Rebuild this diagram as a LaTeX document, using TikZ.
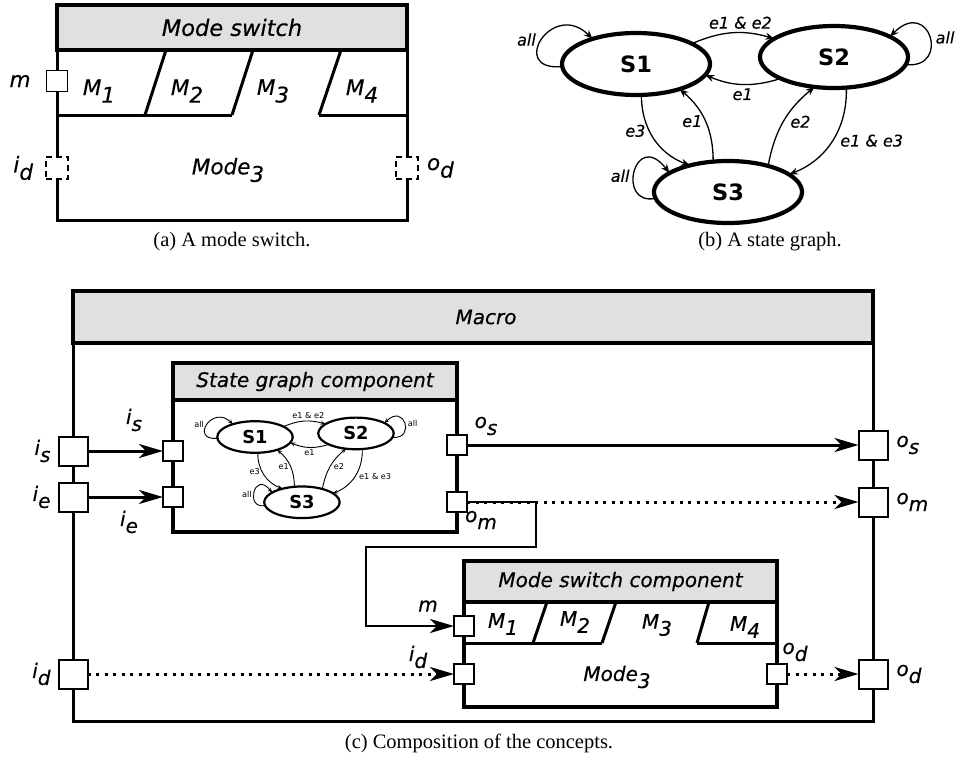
\documentclass[tikz,border=0pt]{standalone}
\usepackage{fontspec}
\setmainfont{Liberation Serif}
\setsansfont{DejaVu Sans}[ItalicFeatures={FakeBold=0.4}]
\usetikzlibrary{positioning,shapes,arrows.meta}
\definecolor{titlegray}{HTML}{E0E0E0}
\newcommand{\lo}[1]{\raisebox{-0.35em}{#1}}
\tikzset{
  every node/.style={inner sep=0pt, outer sep=0pt},
  lbl/.style={font=\sffamily\itshape\fontsize{20}{22}\selectfont},
  lbla/.style={font=\sffamily\itshape\fontsize{21.5}{24}\selectfont},
  caption/.style={font=\rmfamily\fontsize{20.5}{23}\selectfont},
  boxline/.style={line width=3pt},
  titlebar/.style={draw, fill=titlegray, line width=3.5pt, anchor=north west, lbl},
  inport/.style={draw, fill=white, line width=1.5pt, minimum size=20pt},
  outport/.style={draw, fill=white, line width=2pt, minimum size=29pt},
  ghostport/.style={draw, fill=white, line width=1.8pt, dash pattern=on 6pt off 4pt, minimum size=22pt},
  flow/.style={line width=3pt, -{Stealth[length=24pt,width=14pt,inset=7pt]}},
  dotflow/.style={flow, dash pattern=on 3pt off 5.5pt},
  route/.style={line width=2.5pt, -{Stealth[length=24pt,width=14pt,inset=7pt]}},
  sgstate/.style={ellipse, draw, line width=4.2pt, minimum width=148pt, minimum height=62pt,
    font=\sffamily\bfseries\fontsize{22.5}{24}\selectfont},
  sgedge/.style={line width=1.3pt, -{Stealth[length=9pt,width=7pt,inset=3pt]}},
  sglbl/.style={font=\sffamily\itshape\fontsize{16}{18}\selectfont},
  pics/stategraph/.style={code={
    \node[sgstate] (S1) at (0,0) {S1};
    \node[sgstate] (S2) at (198,-7) {S2};
    \node[sgstate] (S3) at (92,128) {S3};
    \draw[sgedge] (S1.20) to[bend left=20] node[sglbl, pos=0.6, above=4pt] {e1 \& e2} (S2.163);
    \draw[sgedge] (S2.202) to[bend left=20] node[sglbl, midway, below=4pt] {e1} (S1.351);
    \draw[sgedge] (S1.280) to[bend right=35] node[sglbl, pos=0.4, left=4pt] {e3} (S3.145);
    \draw[sgedge] (S3.116) to[bend right=25] node[sglbl, midway, left=3pt] {e1} (S1.330);
    \draw[sgedge] (S3.33) to[bend left=20] node[sglbl, midway, right=7pt] {e2} (S2.237);
    \draw[sgedge] (S2.292) to[bend left=35] node[sglbl, midway, right=8pt] {e1 \& e3} (S3.16);
    \draw[sgedge] (S1.182) .. controls +(-55,5) and +(-40,-40) .. (S1.150)
      node[sglbl, pos=0.5, left=6pt] {all};
    \draw[sgedge] (S2.354) .. controls +(45,5) and +(40,-40) .. (S2.20)
      node[sglbl, pos=0.5, right=6pt] {all};
    \draw[sgedge] (S3.185) .. controls +(-40,8) and +(-35,-45) .. (S3.162)
      node[sglbl, pos=0.45, left=4pt] {all};
  }},
}
\begin{document}
\begin{tikzpicture}[x=1pt, y=-1pt]
\useasboundingbox (0,0) rectangle (958,758);

% (a) mode switch
\node[draw, boxline, minimum width=350pt, minimum height=215pt, anchor=north west] (ms) at (57,5) {};
\draw[boxline] (57,115) -- (232,115) (319,115) -- (407,115);
\draw[boxline] (166,50) -- (145,115) (253,50) -- (232,115) (341,50) -- (319,115);
\node[titlebar, minimum width=350pt, minimum height=45pt,
  font=\sffamily\itshape\fontsize{22.5}{25}\selectfont] (mstitle) at (57,5) {Mode switch};
\node[lbla] (msM1) at (99,91) {M\lo{1}};
\node[lbla] (msM2) at (187,91) {M\lo{2}};
\node[lbla] (msM3) at (273,91) {M\lo{3}};
\node[lbla] (msM4) at (362,91) {M\lo{4}};
\node[lbla] (msmode) at (228,170) {Mode\lo{3}};
\node[inport, minimum size=21pt] (msm) at (57,81) {};
\node[ghostport] (msid) at (57,168) {};
\node[ghostport] (msod) at (407,168) {};
\node[lbla, left=16pt of msm] (msmlbl) {m};
\node[lbla, left=13pt of msid] (msidlbl) {i\lo{d}};
\node[lbla, right=9pt of msod] (msodlbl) {o\lo{d}};
\node[caption] (capa) at (232,242) {(a) A mode switch.};

% (b) state graph
\pic (sg) at (636,64) {stategraph};
\node[caption] (capb) at (770,242) {(b) A state graph.};

% (c) macro
\node[draw, boxline, minimum width=800pt, minimum height=430pt, anchor=north west] (macro) at (73,291) {};
\node[titlebar, minimum width=800pt, minimum height=52pt] (macrotitle) at (73,291) {\hspace*{26pt}Macro};

\node[draw, line width=3.5pt, minimum width=284pt, minimum height=169pt, anchor=north west] (sgc) at (173,363) {};
\node[titlebar, minimum width=284pt, minimum height=37pt] (sgctitle) at (173,363) {State graph component};
\pic[scale=0.51, transform shape,
  sglbl/.style={font=\sffamily\fontsize{16}{18}\selectfont},
  sgstate/.append style={line width=2.2pt, font=\sffamily\bfseries\fontsize{35}{37}\selectfont},
  sgedge/.style={line width=0.9pt, -{Stealth[length=5pt,width=4pt,inset=2pt]}}]
  (mini) at (255,437) {stategraph};

\node[draw, line width=3.5pt, minimum width=313pt, minimum height=146pt, anchor=north west] (msc) at (464,561) {};
\draw[boxline] (464,643) -- (602,643) (697,643) -- (777,643);
\draw[boxline] (547,602) -- (533,643) (616,602) -- (602,643) (709,602) -- (697,643);
\node[titlebar, minimum width=313pt, minimum height=41pt] (msctitle) at (464,561) {Mode switch component};
\node[lbl] (mscM1) at (503,624) {M\lo{1}};
\node[lbl] (mscM2) at (575,622) {M\lo{2}};
\node[lbl] (mscM3) at (657,625) {M\lo{3}};
\node[lbl] (mscM4) at (745,627) {M\lo{4}};
\node[lbl] (mscmode) at (617,677) {Mode\lo{3}};

% ports
\node[outport] (is) at (73,451) {};
\node[outport] (ie) at (73,497) {};
\node[outport] (id) at (73,674) {};
\node[outport] (os) at (873,445) {};
\node[outport] (om) at (873,502) {};
\node[outport] (od) at (873,674) {};
\node[inport] (sgis) at (173,451) {};
\node[inport] (sgie) at (173,497) {};
\node[inport] (sgos) at (457,445) {};
\node[inport] (sgom) at (457,502) {};
\node[inport] (mscm) at (464,626) {};
\node[inport] (mscid) at (464,674) {};
\node[inport] (mscod) at (777,674) {};

\node[lbl, left=8pt of is] (islbl) {i\lo{s}};
\node[lbl, left=8pt of ie] (ielbl) {i\lo{e}};
\node[lbl, left=8pt of id] (idlbl) {i\lo{d}};
\node[lbl, right=9pt of os] (oslbl) {o\lo{s}};
\node[lbl, right=9pt of om] (omlbl) {o\lo{m}};
\node[lbl, right=9pt of od] (odlbl) {o\lo{d}};
\node[lbl] (sgislbl) at (134,420) {i\lo{s}};
\node[lbl] (sgielbl) at (129,522) {i\lo{e}};
\node[lbl] (sgoslbl) at (486,426) {o\lo{s}};
\node[lbl] (sgomlbl) at (481,520) {o\lo{m}};
\node[lbl] (mscmlbl) at (428,606) {m};
\node[lbl] (mscidlbl) at (418,657) {i\lo{d}};
\node[lbl] (mscodlbl) at (795,652) {o\lo{d}};

% connectors
\coordinate (bend1) at (536,547);
\coordinate (bend2) at (366,547);
\draw[flow] (is) -- (sgis);
\draw[flow] (ie) -- (sgie);
\draw[flow] (sgos) -- (os);
\draw[route] (sgom) -| (bend1) -- (bend2) |- (mscm);
\draw[dotflow] (sgom) -- (om);
\draw[dotflow] (id) -- (mscid);
\draw[dotflow] (mscod) -- (od);

\node[caption] (capc) at (479,743) {(c) Composition of the concepts.};
\end{tikzpicture}
\end{document}
